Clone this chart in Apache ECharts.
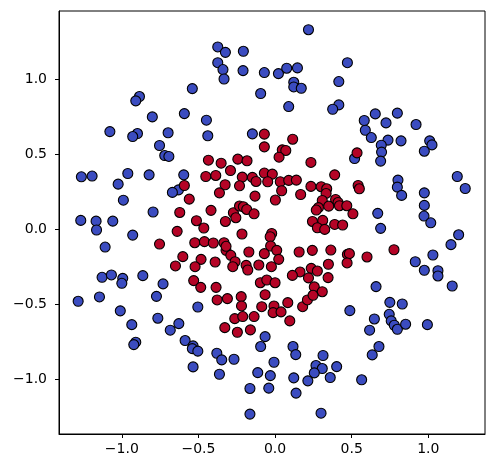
<!DOCTYPE html>
<html>
<head>
<meta charset="utf-8">
<script src="https://cdn.jsdelivr.net/npm/echarts@6/dist/echarts.min.js"></script>
<style>
  html, body { margin: 0; padding: 0; background: #fff; }
  #chart { width: 495px; height: 471px; }
</style>
</head>
<body>
<div id="chart"></div>
<script>
// outer ring (class 0, blue)
var outerX = [-0.540, -0.885, -0.909, -0.801, -0.592, -1.078, -0.898, -0.929, -0.698, -0.754,
  0.218, -0.374, -0.324, -0.207, -0.374, -0.340, -0.333, -0.209, -0.070, 0.022,
  0.076, 0.146, 0.472, 0.122, 0.122, 0.171, -0.094, 0.416, 0.089, 0.416,
  0.376, -0.448, -0.439, -0.148, 0.654, 0.798, 0.582, 0.724, 0.920, 0.589,
  0.628, 0.737, 0.822, 0.693, 1.009, 1.024, -0.720, -0.693, -1.264, -1.194,
  -0.961, -0.822, -1.024, -0.596, -0.630, -0.670, -0.990, -0.796, -1.268, -1.168,
  -1.059, -1.165, -0.929, -1.109, -1.129, -1.068, -0.994, -1.000, -0.863, -0.731,
  0.519, 0.695, 0.689, 0.974, 0.802, 0.798, 0.826, 0.974, 1.189, 1.241,
  0.670, 0.974, 0.972, 1.016, 0.689, 1.198, 1.148, 1.030, 0.915, 0.974,
  1.063, 1.063, 0.659, 1.156, -1.285, -1.146, -0.774, -1.010, -0.504, -0.935,
  -0.765, -0.628, -0.684, -0.909, -0.922, -0.587, -0.535, -0.540, -0.504, -0.535,
  -0.065, -0.094, -0.380, -0.348, -0.268, -0.363, -0.007, -0.113, -0.031, -0.164,
  -0.041, 0.117, 0.135, 0.122, 0.137, -0.164, 0.313, 0.267, 0.308, 0.402,
  0.256, 0.360, 0.214, 0.300, 0.488, 0.749, 0.830, 0.745, 0.648, 0.758,
  0.778, 0.798, 0.852, 0.994, 0.617, 0.678, 0.634, 0.565]
var outerY = [0.940, 0.887, 0.858, 0.751, 0.773, 0.653, 0.640, 0.620, 0.645, 0.560,
  1.333, 1.218, 1.182, 1.189, 1.113, 1.067, 1.004, 1.060, 1.047, 1.040,
  1.076, 1.078, 1.113, 0.982, 0.951, 0.942, 0.907, 0.987, 0.820, 0.831,
  0.802, 0.729, 0.625, 0.638, 0.771, 0.776, 0.727, 0.711, 0.700, 0.662,
  0.613, 0.596, 0.591, 0.562, 0.591, 0.564, 0.493, 0.487, 0.351, 0.356,
  0.373, 0.364, 0.302, 0.364, 0.264, 0.247, 0.195, 0.116, 0.060, 0.055,
  0.055, -0.004, -0.038, -0.118, -0.320, -0.304, -0.327, -0.360, -0.309, -0.364,
  0.473, 0.516, 0.456, 0.522, 0.329, 0.282, 0.227, 0.244, 0.353, 0.273,
  0.107, 0.160, 0.089, 0.044, 0.007, -0.036, -0.102, -0.171, -0.216, -0.273,
  -0.276, -0.311, -0.382, -0.378, -0.480, -0.451, -0.447, -0.544, -0.518, -0.636,
  -0.593, -0.629, -0.673, -0.753, -0.769, -0.742, -0.778, -0.796, -0.813, -0.918,
  -0.716, -0.782, -0.827, -0.871, -0.867, -0.967, -0.887, -0.956, -0.976, -1.062,
  -1.060, -0.782, -0.836, -0.991, -1.093, -1.233, -0.842, -0.909, -0.929, -0.916,
  -0.958, -0.989, -1.011, -1.227, -0.542, -0.487, -0.498, -0.567, -0.598, -0.611,
  -0.640, -0.667, -0.633, -0.636, -0.673, -0.782, -0.838, -1.004]

// inner ring (class 1, red)
var innerX = [-0.592, -0.560, -0.622, -0.513, -0.465, -0.639, -0.754, -0.524, -0.602, -0.483,
  -0.650, -0.522, -0.531, -0.485, -0.070, 0.115, -0.070, 0.047, 0.070, 0.026,
  -0.435, -0.352, -0.243, -0.183, 0.234, 0.389, -0.452, -0.387, -0.291, -0.214,
  -0.148, -0.124, -0.070, -0.018, -0.048, 0.034, 0.089, 0.139, -0.326, -0.232,
  -0.363, 0.043, -0.131, 0.002, 0.167, 0.234, 0.301, 0.337, 0.333, 0.308,
  0.395, 0.411, 0.283, 0.350, 0.420, 0.468, 0.269, 0.244, 0.311, 0.276,
  0.324, 0.389, 0.441, -0.418, -0.272, -0.232, -0.207, -0.185, -0.137, -0.256,
  -0.324, -0.216, -0.022, -0.032, -0.461, -0.403, -0.333, -0.320, -0.289, -0.391,
  -0.261, -0.276, -0.171, -0.029, 0.011, -0.070, 0.024, -0.024, -0.106, -0.189,
  -0.178, 0.157, 0.243, 0.364, 0.348, 0.236, 0.276, 0.163, 0.113, 0.218,
  0.346, -0.096, -0.054, 0.000, 0.256, 0.308, -0.385, -0.320, 0.535, 0.542,
  0.550, 0.508, 0.776, 0.472, 0.485, 0.470, 0.600, -0.378, -0.311, -0.221,
  -0.219, -0.263, -0.211, -0.137, -0.087, -0.065, -0.007, -0.013, 0.039, 0.083,
  0.096, 0.180, 0.211, 0.248, -0.328, -0.246, -0.161]
var innerY = [0.293, 0.202, 0.113, 0.058, 0.009, -0.013, -0.098, -0.089, -0.182, -0.200,
  -0.244, -0.249, -0.342, -0.387, 0.636, 0.602, 0.551, 0.531, 0.527, 0.482,
  0.462, 0.442, 0.469, 0.458, 0.447, 0.364, 0.353, 0.360, 0.393, 0.349,
  0.347, 0.320, 0.376, 0.369, 0.318, 0.318, 0.327, 0.329, 0.298, 0.291,
  0.244, 0.258, 0.222, 0.196, 0.233, 0.287, 0.285, 0.271, 0.240, 0.193,
  0.200, 0.180, 0.145, 0.155, 0.158, 0.158, 0.129, 0.053, 0.060, 0.011,
  0.000, 0.033, 0.029, 0.127, 0.111, 0.156, 0.151, 0.133, 0.104, 0.078,
  0.053, -0.031, -0.027, -0.049, -0.082, -0.091, -0.089, -0.140, -0.173, -0.218,
  -0.216, -0.249, -0.151, -0.111, -0.140, -0.162, -0.200, -0.249, -0.238, -0.240,
  -0.271, -0.151, -0.140, -0.138, -0.233, -0.260, -0.278, -0.284, -0.307, -0.324,
  -0.322, -0.356, -0.338, -0.356, -0.384, -0.416, -0.387, -0.113, 0.511, 0.293,
  0.271, 0.104, -0.136, -0.167, -0.162, -0.224, -0.184, -0.471, -0.462, -0.449,
  -0.511, -0.596, -0.582, -0.582, -0.516, -0.436, -0.511, -0.556, -0.551, -0.489,
  -0.611, -0.516, -0.471, -0.440, -0.656, -0.687, -0.671]

var xTicks = [-1.0, -0.5, 0.0, 0.5, 1.0]
var yTicks = [-1.0, -0.5, 0.0, 0.5, 1.0]

function pairs (xs, ys) {
  return xs.map(function (x, i) { return [x, ys[i]] })
}

function tickLabel (v) {
  return v.toFixed(1).replace('-', '\u2212')
}

var axisFont = { fontFamily: 'DejaVu Sans', fontSize: 14, color: '#000' }

var chart = echarts.init(document.getElementById('chart'))
chart.setOption({
  animation: false,
  backgroundColor: '#fff',
  grid: {
    left: 59,
    right: 10,
    top: 11,
    bottom: 37,
    show: true,
    borderColor: '#000',
    borderWidth: 1
  },
  xAxis: {
    type: 'value',
    min: -1.41,
    max: 1.37,
    splitLine: { show: false },
    axisLine: { onZero: false, lineStyle: { color: '#000', width: 1 } },
    axisTick: { length: 4, lineStyle: { color: '#000' }, customValues: xTicks },
    axisLabel: Object.assign({ margin: 8, customValues: xTicks, formatter: tickLabel }, axisFont)
  },
  yAxis: {
    type: 'value',
    min: -1.366,
    max: 1.458,
    splitLine: { show: false },
    axisLine: { onZero: false, lineStyle: { color: '#000', width: 1 } },
    axisTick: { length: 4, lineStyle: { color: '#000' }, customValues: yTicks },
    axisLabel: Object.assign({ margin: 12, customValues: yTicks, formatter: tickLabel }, axisFont)
  },
  series: [
    {
      type: 'scatter',
      data: pairs(outerX, outerY),
      symbolSize: 10,
      itemStyle: { color: '#3b4cc0', borderColor: '#000', borderWidth: 1.1, opacity: 1 }
    },
    {
      type: 'scatter',
      data: pairs(innerX, innerY),
      symbolSize: 10,
      itemStyle: { color: '#b40426', borderColor: '#000', borderWidth: 1.1, opacity: 1 }
    }
  ]
})
</script>
</body>
</html>
